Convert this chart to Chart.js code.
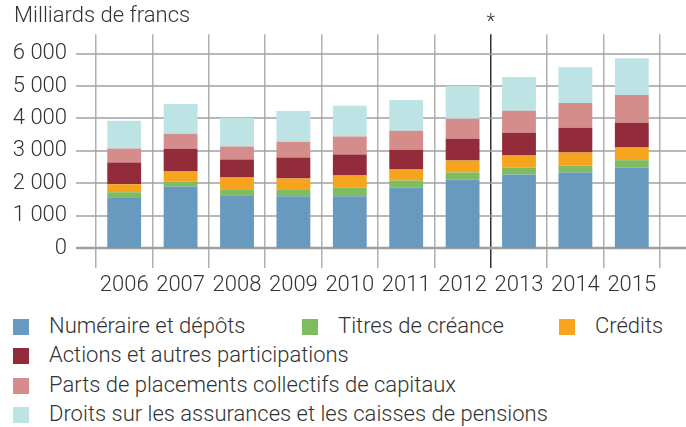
<!DOCTYPE html>
<html>
<head>
<meta charset="utf-8">
<script src="https://cdn.jsdelivr.net/npm/chart.js@4"></script>
<style>
  body { margin: 0; background: #fff; font-family: Roboto, "Liberation Sans", sans-serif; font-weight: 300; color: #333; }
  #wrap { position: relative; width: 686px; height: 427px; }
  #box { position: absolute; left: 0; top: 0; width: 686px; height: 300px; }
  #title { position: absolute; left: 14px; top: 2px; font-size: 22px; }
  .item { position: absolute; font-size: 22px; line-height: 24px; white-space: nowrap; }
  .item span { display: inline-block; width: 16px; height: 16px; margin-right: 20px; vertical-align: -2px; }
</style>
</head>
<body>
<div id="wrap">
  <div id="box"><canvas id="myChart"></canvas></div>
  <div id="title">Milliards de francs</div>
  <div id="legend"></div>
</div>
<script>
const years = ['2006', '2007', '2008', '2009', '2010', '2011', '2012', '2013', '2014', '2015'];
const yTicks = [0, 1000, 2000, 3000, 4000, 5000, 6000];

const numeraire = [1565, 1900, 1625, 1595, 1595, 1870, 2115, 2270, 2330, 2485];
const titres = [155, 155, 185, 215, 275, 215, 215, 215, 215, 225];
const credits = [245, 305, 370, 335, 370, 335, 370, 370, 400, 390];
const actions = [675, 705, 550, 645, 645, 615, 675, 705, 765, 765];
const placements = [430, 460, 400, 490, 555, 585, 615, 675, 765, 860];
const assurances = [860, 920, 880, 950, 950, 950, 1010, 1045, 1105, 1135];

const seriesNames = [
    'Numéraire et dépôts',
    'Titres de créance',
    'Crédits',
    'Actions et autres participations',
    'Parts de placements collectifs de capitaux',
    'Droits sur les assurances et les caisses de pensions'
];
const seriesColors = ['#6899be', '#7fbb5f', '#f6a41d', '#922c3b', '#d58d8c', '#bde3e5'];
const seriesData = [numeraire, titres, credits, actions, placements, assurances];
const breakAfter = 6; // line + asterisk between 2012 and 2013

// horizontal grid lines, extended past the plot on both sides
const hGrid = {
    id: 'hGrid',
    beforeDatasetsDraw(chart) {
        const ctx = chart.ctx;
        const y = chart.scales.y;
        ctx.save();
        yTicks.forEach(v => {
            const py = Math.round(y.getPixelForValue(v));
            ctx.strokeStyle = '#a0a0a0';
            ctx.lineWidth = v === 0 ? 2.5 : 1.5;
            ctx.beginPath();
            ctx.moveTo(76, py);
            ctx.lineTo(chart.width, py);
            ctx.stroke();
        });
        ctx.restore();
    },
    afterDraw(chart) {
        const ctx = chart.ctx;
        const x = chart.scales.x;
        const px = (x.getPixelForValue(breakAfter) + x.getPixelForValue(breakAfter + 1)) / 2;
        ctx.save();
        ctx.fillStyle = '#333';
        ctx.font = '300 20px Roboto, "Liberation Sans", sans-serif';
        ctx.textAlign = 'center';
        ctx.fillText('*', px, 28);
        ctx.restore();
    }
};

Chart.defaults.font.family = 'Roboto, "Liberation Sans", sans-serif';
Chart.defaults.font.size = 22;
Chart.defaults.font.weight = '300';
Chart.defaults.color = '#333';

new Chart(document.getElementById('myChart'), {
    type: 'bar',
    data: {
        labels: years,
        datasets: seriesData.map((d, i) => ({
            label: seriesNames[i],
            data: d,
            backgroundColor: seriesColors[i],
            borderWidth: 0,
            barPercentage: 0.6,
            categoryPercentage: 1.0
        }))
    },
    options: {
        responsive: true,
        maintainAspectRatio: false,
        animation: false,
        layout: { padding: { top: 24, right: 26, left: 0, bottom: 0 } },
        plugins: { legend: { display: false }, tooltip: { enabled: false } },
        scales: {
            x: {
                stacked: true,
                border: { display: false },
                grid: {
                    offset: true,
                    lineWidth: 1.5,
                    tickLength: 20,
                    color: c => c.index === breakAfter + 1 ? '#333' : '#b0b0b0',
                    tickColor: c => c.index === breakAfter + 1 ? '#333' : '#b0b0b0'
                },
                ticks: { padding: 4, maxRotation: 0 },
                afterFit: s => { s.height = 52; }
            },
            y: {
                stacked: true,
                min: 0,
                max: 6600,
                border: { display: false },
                grid: { display: false },
                ticks: {
                    stepSize: 1000,
                    padding: 21,
                    callback: v => String(v).replace(/\B(?=(\d{3})+(?!\d))/g, ' ')
                },
                afterBuildTicks: s => { s.ticks = yTicks.map(v => ({ value: v })); },
                afterFit: s => { s.width = 96; }
            }
        }
    },
    plugins: [hGrid]
});

// legend in the same layout as the original
const legendRows = [[0, 1, 2], [3], [4], [5]];
const legendCols = [13, 302, 559];
const legend = document.getElementById('legend');
legendRows.forEach((row, r) => {
    row.forEach((idx, c) => {
        const el = document.createElement('div');
        el.className = 'item';
        el.style.left = legendCols[c] + 'px';
        el.style.top = (314 + r * 29.3) + 'px';
        el.innerHTML = '<span style="background:' + seriesColors[idx] + '"></span>' + seriesNames[idx];
        legend.appendChild(el);
    });
});
</script>
</body>
</html>
